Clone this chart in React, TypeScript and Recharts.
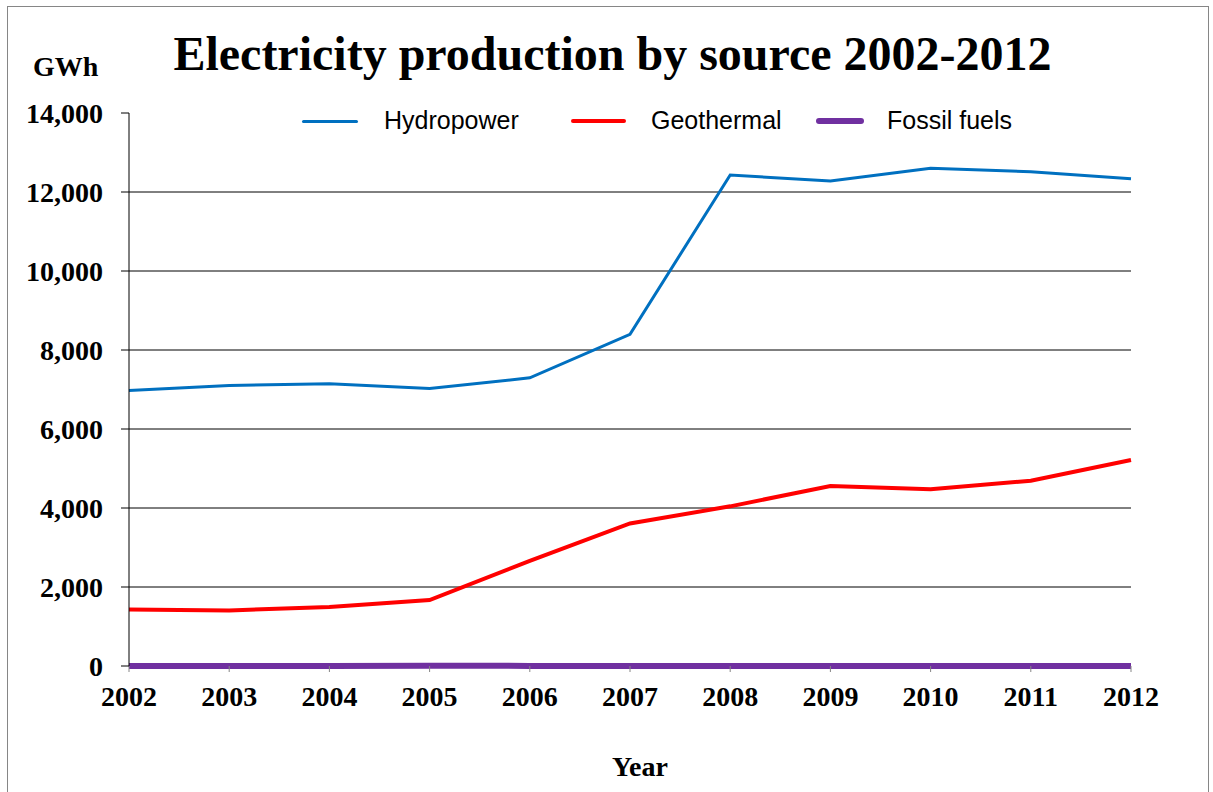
import React from "react";
import { LineChart, Line, XAxis, YAxis, CartesianGrid } from "recharts";

const years = [2002, 2003, 2004, 2005, 2006, 2007, 2008, 2009, 2010, 2011, 2012];
const hydropower = [6974, 7101, 7143, 7025, 7296, 8397, 12430, 12279, 12599, 12515, 12338];
const geothermal = [1432, 1407, 1492, 1670, 2661, 3609, 4042, 4557, 4473, 4692, 5215];
const fossilFuels = [3, 3, 3, 8, 3, 2, 2, 2, 2, 2, 2];
const yTicks = [0, 2000, 4000, 6000, 8000, 10000, 12000, 14000];
const gridValues = [2000, 4000, 6000, 8000, 10000, 12000];

const series = [
  { key: "hydro", name: "Hydropower", color: "#0070C0", width: 3 },
  { key: "geo", name: "Geothermal", color: "#FF0000", width: 4 },
  { key: "fossil", name: "Fossil fuels", color: "#7030A0", width: 6 },
];

const legendLayout = [
  { lineLeft: 302, lineWidth: 56, textLeft: 384 },
  { lineLeft: 571, lineWidth: 55, textLeft: 651 },
  { lineLeft: 816, lineWidth: 48, textLeft: 887 },
];

const data = years.map((y, i) => ({
  year: y,
  hydro: hydropower[i],
  geo: geothermal[i],
  fossil: fossilFuels[i],
}));

const serif = "'Liberation Serif', 'Times New Roman', serif";
const sans = "'Liberation Sans', Arial, sans-serif";

export default function App() {
  return (
    <div
      style={{
        position: "absolute",
        left: 0,
        top: 0,
        width: 1213,
        height: 792,
        background: "#fff",
        overflow: "hidden",
      }}
    >
      <div
        style={{
          position: "absolute",
          left: 7,
          top: 6,
          width: 1202,
          height: 820,
          border: "1.5px solid #868686",
          boxSizing: "border-box",
        }}
      />
      <div
        style={{
          position: "absolute",
          left: 0,
          width: 1225,
          top: 24,
          textAlign: "center",
          fontFamily: serif,
          fontWeight: "bold",
          fontSize: 48,
          lineHeight: "60px",
          color: "#000",
        }}
      >
        Electricity production by source 2002-2012
      </div>
      <div
        style={{
          position: "absolute",
          left: 33,
          top: 50,
          fontFamily: serif,
          fontWeight: "bold",
          fontSize: 28,
          lineHeight: "34px",
        }}
      >
        GWh
      </div>
      <div
        style={{
          position: "absolute",
          left: 0,
          width: 1280,
          top: 750,
          textAlign: "center",
          fontFamily: serif,
          fontWeight: "bold",
          fontSize: 28,
          lineHeight: "34px",
        }}
      >
        Year
      </div>
      {series.map((s, i) => (
        <React.Fragment key={s.key}>
          <div
            style={{
              position: "absolute",
              left: legendLayout[i].lineLeft,
              top: 121 - s.width / 2,
              width: legendLayout[i].lineWidth,
              height: s.width,
              borderRadius: s.width / 2,
              background: s.color,
            }}
          />
          <div
            style={{
              position: "absolute",
              left: legendLayout[i].textLeft,
              top: 105,
              fontFamily: sans,
              fontSize: 25,
              lineHeight: "30px",
              color: "#000",
            }}
          >
            {s.name}
          </div>
        </React.Fragment>
      ))}
      <div style={{ position: "absolute", left: 0, top: 0 }}>
        <LineChart
          width={1213}
          height={792}
          data={data}
          margin={{ top: 113, right: 82, bottom: 86, left: 69 }}
        >
          <CartesianGrid
            vertical={false}
            horizontalValues={gridValues}
            stroke="#000"
            strokeWidth={1}
          />
          <XAxis
            dataKey="year"
            type="number"
            domain={[2002, 2012]}
            ticks={years}
            height={40}
            tickSize={6}
            tickMargin={14}
            stroke="#868686"
            axisLine={false}
            tick={{ fill: "#000", fontFamily: serif, fontWeight: "bold", fontSize: 28 }}
            allowDecimals={false}
          />
          <YAxis
            domain={[0, 14000]}
            ticks={yTicks}
            width={60}
            tickSize={8}
            tickMargin={18}
            stroke="#000"
            interval={0}
            tickFormatter={(v: number) => v.toLocaleString("en-US")}
            tick={{ fill: "#000", fontFamily: serif, fontWeight: "bold", fontSize: 28 }}
          />
          {series.map((s) => (
            <Line
              key={s.key}
              dataKey={s.key}
              name={s.name}
              type="linear"
              stroke={s.color}
              strokeWidth={s.width}
              dot={false}
              activeDot={false}
              isAnimationActive={false}
            />
          ))}
        </LineChart>
      </div>
    </div>
  );
}
